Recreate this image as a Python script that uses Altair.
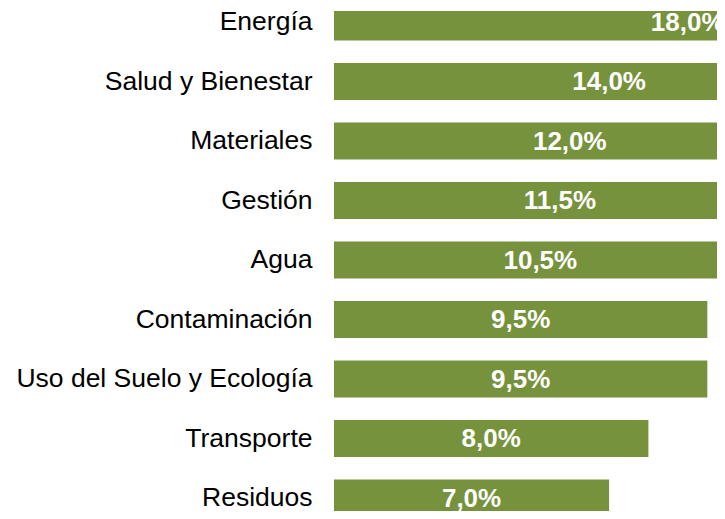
import altair as alt
import pandas as pd

categories = ["Energía", "Salud y Bienestar", "Materiales", "Gestión", "Agua",
              "Contaminación", "Uso del Suelo y Ecología", "Transporte", "Residuos"]
values = [18.0, 14.0, 12.0, 11.5, 10.5, 9.5, 9.5, 8.0, 7.0]
labels = [f"{v:.1f}".replace(".", ",") + "%" for v in values]

df = pd.DataFrame({"cat": categories, "val": values, "label": labels})

GREEN = "#76923C"
PX_PER_PCT = 39.3
LEFT = 326
TOP = 3
PLOT_W = 383
PLOT_H = 500
XMAX = PLOT_W / PX_PER_PCT
step = 59.5
band = 37.0
pin = 1 - band / step
pout = pin / 2
c0 = 11.0
r0 = c0 - step / 2
r1 = r0 + step * len(categories)

xscale = alt.Scale(domain=[0, XMAX], nice=False, zero=True)

y = alt.Y("cat:N", sort=categories, title=None,
          scale=alt.Scale(range=[r0, r1], paddingInner=pin, paddingOuter=pout),
          axis=alt.Axis(ticks=False, tickSize=0, domain=False, labelPadding=22,
                        labelFont="Liberation Sans", labelFontSize=26.5,
                        labelColor="#000000", labelLimit=400))

bars = alt.Chart(df).mark_bar(color=GREEN, clip=True).encode(
    x=alt.X("val:Q", title=None, axis=None, scale=xscale), y=y)

text = alt.Chart(df).transform_calculate(mid="datum.val / 2").mark_text(
    color="white", font="Liberation Sans", fontSize=26, fontWeight="bold",
    align="center", baseline="middle", clip=True, dy=0.5
).encode(x=alt.X("mid:Q", scale=xscale, axis=None),
         y=alt.Y("cat:N", sort=categories), text="label:N")

chart = alt.layer(bars, text).properties(
    width=PLOT_W, height=PLOT_H,
    padding={"left": LEFT, "top": TOP, "right": 0, "bottom": 0},
    autosize=alt.AutoSizeParams(type="none"),
    background="white",
).configure_view(stroke=None)

chart.save("out.html", embed_options={"renderer": "svg", "actions": False})
